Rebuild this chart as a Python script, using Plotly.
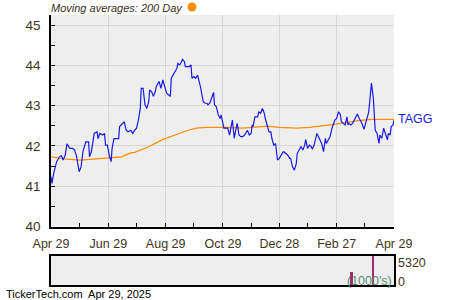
import pandas as pd
import plotly.graph_objects as go

start_date = "2024-04-29"

# TAGG closing price: day offsets from start_date and values
price_days = [0, 1, 3, 6, 9, 11, 13, 15, 17, 20, 23, 25, 27, 30, 32, 34, 37, 40, 41, 43,
              46, 49, 50, 52, 55, 57, 58, 60, 62, 64, 65, 67, 70, 72, 73, 75, 78, 80, 82, 85,
              87, 89, 91, 93, 95, 96, 98, 100, 102, 104, 105, 107, 109, 111, 112, 114, 115, 117,
              119, 121, 123, 125, 127, 128, 130, 132, 134, 135, 137, 138, 140, 142, 143, 145,
              147, 149, 150, 152, 154, 156, 157, 159, 160, 162, 164, 166, 167, 169, 171, 173,
              174, 176, 178, 180, 181, 182, 184, 185, 188, 190, 192, 193, 195, 197, 198, 199,
              200, 202, 204, 206, 207, 209, 211, 213, 214, 215, 217, 220, 221, 223, 225, 227,
              228, 230, 232, 234, 235, 237, 239, 240, 241, 243, 245, 247, 248, 250, 252, 254,
              255, 257, 259, 261, 262, 264, 266, 268, 270, 271, 273, 275, 277, 278, 280, 283,
              284, 286, 288, 290, 292, 293, 295, 297, 299, 300, 302, 304, 306, 308, 309, 311,
              313, 315, 316, 317, 319, 321, 323, 325, 326, 328, 330, 331, 333, 335, 337, 338,
              339, 341, 343, 344, 345, 347, 349, 350, 352, 354, 356, 358, 359, 361, 362, 364, 365]
price_vals = [41.24, 41.07, 41.33, 41.61, 41.73, 41.76, 41.65, 41.76, 42.05, 41.94, 41.94, 41.90,
              41.76, 41.36, 41.48, 41.86, 42.10, 42.10, 41.73, 41.86, 42.31, 42.35, 42.18, 42.31,
              42.27, 42.31, 42.02, 42.02, 41.76, 41.61, 41.94, 42.18, 42.18, 42.18, 42.48, 42.52,
              42.60, 42.39, 42.35, 42.39, 42.31, 42.39, 42.44, 42.64, 42.93, 43.43, 43.43, 43.02,
              42.93, 43.10, 43.39, 43.35, 43.23, 43.35, 43.47, 43.56, 43.60, 43.43, 43.64, 43.47,
              43.31, 43.27, 43.23, 43.68, 43.76, 43.85, 43.93, 44.05, 44.01, 44.05, 44.15, 44.09,
              43.97, 43.97, 43.97, 44.01, 43.68, 43.72, 43.68, 43.76, 43.68, 43.47, 43.35, 43.10,
              43.06, 43.06, 43.02, 43.06, 43.19, 43.33, 43.02, 42.97, 42.77, 42.68, 42.77, 42.64,
              42.44, 42.44, 42.44, 42.27, 42.56, 42.64, 42.19, 42.48, 42.56, 42.44, 42.27, 42.23,
              42.23, 42.27, 42.31, 42.39, 42.27, 42.31, 42.52, 42.48, 42.72, 42.72, 42.85, 42.81,
              42.93, 42.81, 42.68, 42.52, 42.35, 42.35, 42.19, 42.02, 42.06, 41.85, 41.65, 41.69,
              41.77, 41.85, 41.85, 41.81, 41.77, 41.69, 41.69, 41.48, 41.40, 41.56, 41.81, 41.90,
              41.98, 41.90, 42.02, 42.16, 41.94, 42.02, 41.98, 41.92, 42.02, 42.31, 42.25, 42.15,
              42.06, 41.86, 42.19, 42.06, 42.15, 42.23, 42.44, 42.52, 42.64, 42.68, 42.85, 42.77,
              42.60, 42.56, 42.52, 42.72, 42.52, 42.56, 42.52, 42.56, 42.64, 42.72, 42.79, 42.68,
              42.60, 42.56, 42.41, 42.56, 42.77, 42.83, 43.06, 43.56, 43.19, 42.85, 42.39, 42.31,
              42.06, 42.27, 42.19, 42.44, 42.31, 42.15, 42.31, 42.27, 42.48, 42.52, 42.64]

# 200-day moving average
ma_days = [0, 17, 31, 52, 66, 75, 84, 89, 104, 118, 132, 146, 155, 164, 184, 204, 215,
           230, 243, 261, 275, 284, 299, 313, 327, 341, 365]
ma_vals = [41.73, 41.67, 41.65, 41.69, 41.70, 41.73, 41.82, 41.84, 41.98, 42.15, 42.27, 42.39,
           42.44, 42.46, 42.46, 42.44, 42.46, 42.49, 42.46, 42.44, 42.46, 42.48, 42.53, 42.58,
           42.63, 42.66, 42.66]

# Volume (1000's)
vol_days = [320, 343]
vol_vals = [2380, 5320]
vol_max = 5320

tick_dates = ["2024-04-29", "2024-06-29", "2024-08-29", "2024-10-29", "2024-12-28",
              "2025-02-27", "2025-04-29"]
tick_labels = ["Apr 29", "Jun 29", "Aug 29", "Oct 29", "Dec 28", "Feb 27", "Apr 29"]
minor_dates = ["2024-05-29", "2024-07-29", "2024-09-28", "2024-11-28", "2025-01-27",
               "2025-03-29"]
y_ticks = [40, 41, 42, 43, 44, 45]
y_minor = [40.5, 41.5, 42.5, 43.5, 44.5]

t0 = pd.Timestamp(start_date)
px_dates = t0 + pd.to_timedelta(price_days, unit="D")
ma_dates = t0 + pd.to_timedelta(ma_days, unit="D")
v_dates = t0 + pd.to_timedelta(vol_days, unit="D")

W, H = 450, 300
ML, MR, MT, MB = 51, 56, 15, 15
plot_h = H - MT - MB
plot_w = W - ML - MR


def pxx(p):
    return (p - ML) / plot_w


def pxy(p):
    return (H - MB - p) / plot_h


FONT = "Liberation Sans, Arial, sans-serif"
TXT = "#3f3419"

fig = go.Figure()
fig.add_trace(go.Scatter(x=ma_dates, y=ma_vals, mode="lines",
                         line=dict(color="#ff8c00", width=1.2), xaxis="x", yaxis="y",
                         hoverinfo="skip"))
fig.add_trace(go.Scatter(x=px_dates, y=price_vals, mode="lines",
                         line=dict(color="#1a1ae0", width=1.2), xaxis="x", yaxis="y",
                         hoverinfo="skip"))
fig.add_trace(go.Bar(x=v_dates, y=vol_vals, width=2 * 86400000,
                     marker=dict(color="#a0306a", line=dict(width=0)),
                     xaxis="x2", yaxis="y2", hoverinfo="skip"))

x_range = [start_date, "2025-04-29"]
main_bottom = pxy(226.5)
vol_top = pxy(256)

fig.update_layout(
    width=W, height=H,
    margin=dict(l=ML, r=MR, t=MT, b=MB, pad=0, autoexpand=False),
    paper_bgcolor="white",
    plot_bgcolor="#eeeeee",
    showlegend=False,
    font=dict(family=FONT, size=12, color=TXT),
    xaxis=dict(
        domain=[0, 1], anchor="y", range=x_range, type="date",
        tickmode="array", tickvals=tick_dates, ticktext=tick_labels,
        showgrid=True, gridcolor="#d6d6d6", gridwidth=1,
        showline=True, linecolor="black", linewidth=1.5,
        ticks="inside", ticklen=4, tickcolor="black",
        tickfont=dict(size=12.5, color=TXT), ticklabelstandoff=5,
        minor=dict(tickmode="array", tickvals=minor_dates, ticks="inside",
                   ticklen=4, tickcolor="black", showgrid=False),
        zeroline=False, fixedrange=True, automargin=False,
    ),
    yaxis=dict(
        domain=[main_bottom, 1], anchor="x", range=[40, 45.25],
        tickmode="array", tickvals=y_ticks,
        showgrid=True, gridcolor="#d6d6d6", gridwidth=1,
        showline=True, linecolor="black", linewidth=1.5,
        ticks="inside", ticklen=4, tickcolor="black",
        tickfont=dict(size=13.5, color=TXT), ticklabelstandoff=6,
        minor=dict(tickmode="array", tickvals=y_minor, ticks="inside",
                   ticklen=4, tickcolor="black", showgrid=False),
        zeroline=False, fixedrange=True, automargin=False,
    ),
    xaxis2=dict(
        domain=[0, 1], anchor="y2", range=x_range, type="date",
        showticklabels=False, ticks="", showgrid=False,
        showline=True, linecolor="black", linewidth=1.5, mirror=True,
        zeroline=False, fixedrange=True, automargin=False,
    ),
    yaxis2=dict(
        domain=[0, vol_top], anchor="x2", range=[0, vol_max],
        showticklabels=False, ticks="", showgrid=False,
        showline=True, linecolor="black", linewidth=1.5, mirror=True,
        zeroline=False, fixedrange=True, automargin=False,
    ),
    bargap=0,
)

annotations = [
    dict(text="<i>Moving averages: 200 Day</i>", xref="paper", yref="paper",
         x=pxx(49), y=pxy(8), xanchor="left", yanchor="middle", showarrow=False,
         font=dict(size=11, color="#3a3020", family=FONT)),
    dict(text="TAGG", xref="x", yref="y", x=px_dates[-1], y=price_vals[-1],
         xanchor="left", yanchor="middle", xshift=2, yshift=1, showarrow=False,
         font=dict(size=12.5, color="#1a1ae0", family=FONT)),
    dict(text=str(vol_max), xref="paper", yref="paper", x=pxx(396), y=pxy(262.5),
         xanchor="left", yanchor="middle", showarrow=False,
         font=dict(size=12.5, color=TXT, family=FONT)),
    dict(text="0", xref="paper", yref="paper", x=pxx(396), y=pxy(282),
         xanchor="left", yanchor="middle", showarrow=False,
         font=dict(size=12.5, color=TXT, family=FONT)),
    dict(text="(1000's)", xref="paper", yref="paper", x=pxx(394), y=pxy(281),
         xanchor="right", yanchor="middle", showarrow=False,
         font=dict(size=12.5, color="#5a8a70", family=FONT)),
    dict(text="TickerTech.com  Apr 29, 2025", xref="paper", yref="paper",
         x=pxx(4), y=pxy(294), xanchor="left", yanchor="middle", showarrow=False,
         font=dict(size=11, color="black", family=FONT)),
]
fig.update_layout(annotations=annotations)

fig.add_shape(type="circle", xref="paper", yref="paper",
              x0=pxx(187.5), x1=pxx(196.5), y0=pxy(11.5), y1=pxy(2.5),
              fillcolor="#ff8c00", line=dict(width=0))

fig.write_html("out.html", config={"displayModeBar": False})
